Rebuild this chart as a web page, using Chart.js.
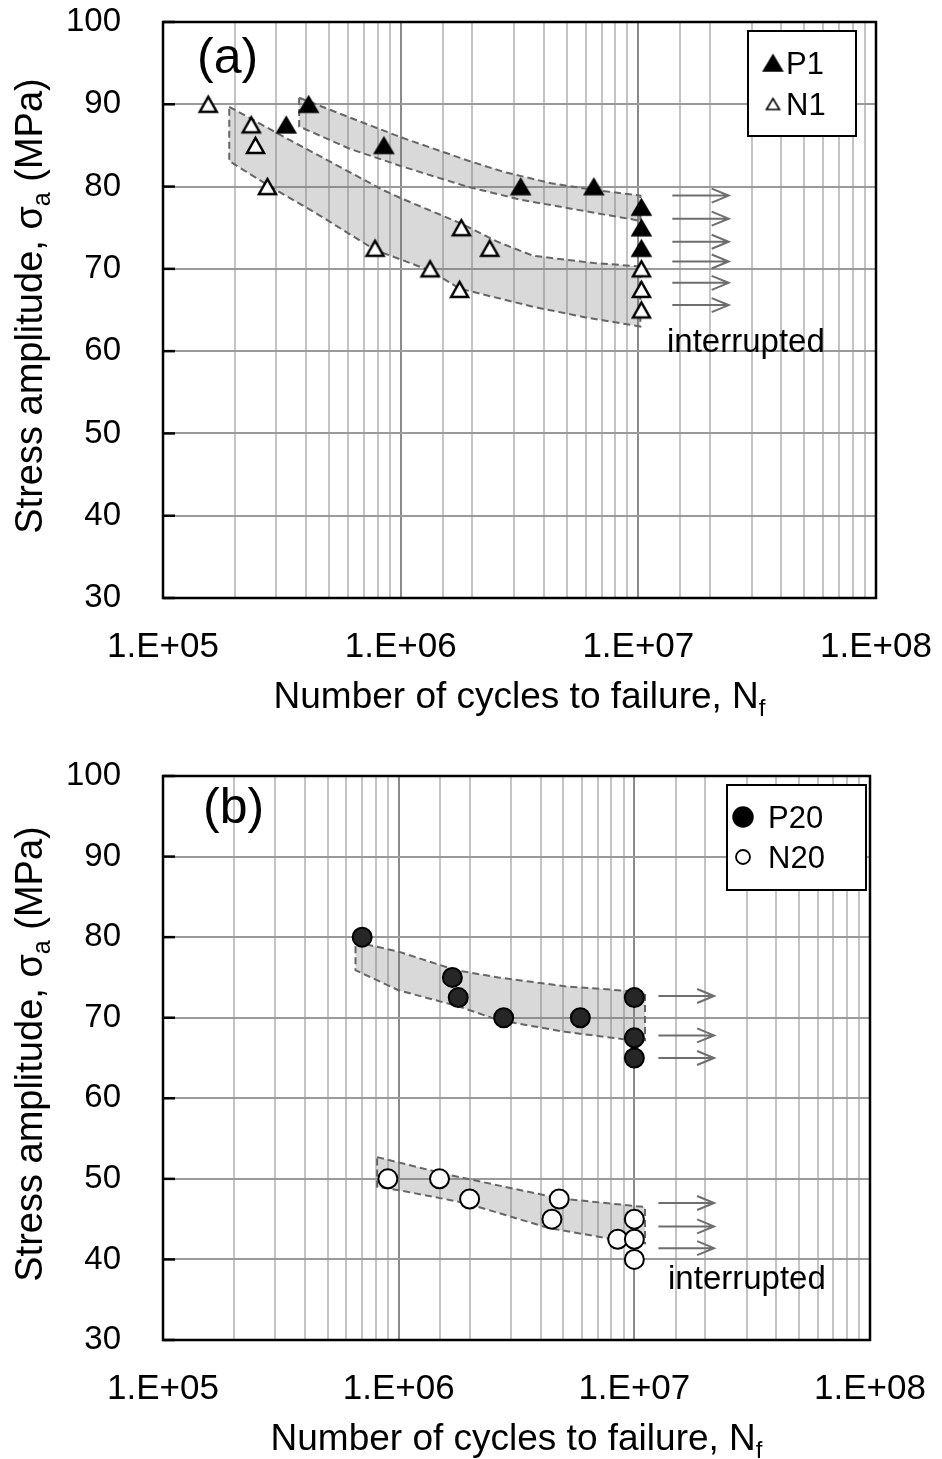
<!DOCTYPE html>
<html>
<head>
<meta charset="utf-8">
<script src="https://cdn.jsdelivr.net/npm/chart.js@4.4.1/dist/chart.umd.min.js"></script>
<style>
  body { margin: 0; background: #fff; }
  .panel { position: absolute; left: 0; width: 942px; }
  #wrapA { top: 0; height: 730px; }
  #wrapB { top: 730px; height: 729px; }
</style>
</head>
<body>
<div class="panel" id="wrapA"><canvas id="chartA"></canvas></div>
<div class="panel" id="wrapB"><canvas id="chartB"></canvas></div>
<script>
const FONT = "'Liberation Sans', Arial, sans-serif";

const xTickValues = [1e5, 1e6, 1e7, 1e8];
const xTickLabels = ['1.E+05', '1.E+06', '1.E+07', '1.E+08'];

// panel (a)
const p1Cycles = [3.3e5, 4.1e5, 8.5e5, 3.2e6, 6.5e6, 1.03e7, 1.03e7, 1.03e7];
const p1Stress = [87.5, 90, 85, 80, 80, 77.5, 75, 72.5];
const n1Cycles = [1.55e5, 2.35e5, 2.45e5, 2.75e5, 7.8e5, 1.33e6, 1.77e6, 1.8e6, 2.37e6, 1.03e7, 1.03e7, 1.03e7];
const n1Stress = [90, 87.5, 85, 80, 72.5, 70, 67.5, 75, 72.5, 70, 67.5, 65];

const p1BandCycles = [3.74e5, 6.1e5, 1.0e6, 1.9e6, 2.7e6, 4.3e6, 6.5e6, 1.02e7, 1.02e7, 9.5e6, 6.0e6, 3.2e6, 1.9e6, 1.0e6, 6.1e5, 3.74e5, 3.74e5];
const p1BandStress = [90.8, 88.4, 86.0, 83.2, 81.8, 80.4, 79.6, 78.9, 75.8, 76.0, 77.0, 78.4, 80.0, 82.5, 84.6, 87.3, 90.8];
const n1BandCycles = [1.9e5, 3.2e5, 8.4e5, 1.0e6, 1.8e6, 2.55e6, 3.6e6, 6.5e6, 1.02e7, 1.02e7, 6.0e6, 3.6e6, 1.77e6, 1.33e6, 7.8e5, 4.5e5, 2.75e5, 1.9e5, 1.9e5];
const n1BandStress = [89.7, 86.1, 79.6, 78.6, 75.5, 73.3, 71.6, 70.7, 70.3, 63.0, 64.1, 65.4, 67.6, 69.8, 72.3, 76.6, 80.2, 83.1, 89.7];

const arrowsACycles = [1.39e7, 2.4e7];
const arrowsAStress = [78.9, 76.1, 73.3, 70.9, 68.3, 65.6];

// panel (b)
const p20Cycles = [7.0e5, 1.69e6, 1.79e6, 2.79e6, 5.9e6, 1.0e7, 1.0e7, 1.0e7];
const p20Stress = [80, 75, 72.5, 70, 70, 72.5, 67.5, 65];
const n20Cycles = [9.0e5, 1.49e6, 2.0e6, 4.8e6, 4.47e6, 1.0e7, 8.5e6, 1.0e7, 1.0e7];
const n20Stress = [50, 50, 47.5, 47.5, 45, 45, 42.5, 42.5, 40];

const p20BandCycles = [6.56e5, 1.0e6, 1.75e6, 2.65e6, 5.08e6, 9.7e6, 1.11e7, 1.11e7, 9.14e6, 5.08e6, 2.65e6, 1.8e6, 1.0e6, 6.56e5, 6.56e5];
const p20BandStress = [79.4, 78.2, 75.9, 75.0, 73.9, 73.3, 73.2, 67.2, 67.3, 68.25, 69.7, 71.4, 73.4, 75.9, 79.4];
const n20BandCycles = [8.1e5, 1.63e6, 4.76e6, 1.11e7, 1.11e7, 7.77e6, 4.33e6, 1.92e6, 1.0e6, 8.1e5, 8.1e5];
const n20BandStress = [52.7, 50.5, 47.6, 46.5, 42.0, 42.6, 43.9, 47.0, 48.6, 49.0, 52.7];

const arrowsBCycles = [1.265e7, 2.18e7];
const arrowsBStress = [72.7, 67.8, 65.0, 47.0, 44.1, 41.4];

const interruptedA = [1.32e7, 61.0];
const interruptedB = [1.39e7, 37.4];


function pts(xs, ys) {
    return xs.map((x, i) => ({x: x, y: ys[i]}));
}

function isDecade(v) {
    const l = Math.log10(v);
    return Math.abs(l - Math.round(l)) < 1e-6;
}

function triMarker(w, h, fill, lw) {
    const m = 4;
    const c = document.createElement('canvas');
    c.width = w + 2 * m;
    c.height = h + 2 * m;
    const g = c.getContext('2d');
    g.beginPath();
    g.moveTo(m, h + m);
    g.lineTo(m + w / 2, m);
    g.lineTo(m + w, h + m);
    g.closePath();
    g.fillStyle = fill;
    g.fill();
    g.lineWidth = lw;
    g.strokeStyle = '#000';
    g.stroke();
    return c;
}

const triFilled = triMarker(19, 16, '#000', 1.5);
const triOpen = triMarker(17, 15, '#fff', 2.5);
const triOpenSmall = triMarker(13, 11, '#fff', 1.6);

function band(xs, ys) {
    return {
        data: pts(xs, ys),
        showLine: true,
        fill: 'shape',
        backgroundColor: 'rgba(120,120,120,0.28)',
        borderColor: '#666',
        borderWidth: 2,
        borderDash: [7, 4],
        tension: 0,
        pointRadius: 0,
        order: 2
    };
}

function drawRich(ctx, parts, x, y) {
    let total = 0;
    parts.forEach(p => {
        ctx.font = p.size + 'px ' + FONT;
        p.w = ctx.measureText(p.text).width;
        total += p.w;
    });
    let cx = x - total / 2;
    parts.forEach(p => {
        ctx.font = p.size + 'px ' + FONT;
        ctx.fillText(p.text, cx, y + (p.dy || 0));
        cx += p.w;
    });
}

const decoPlugin = {
    id: 'deco',
    afterDraw(chart, args, o) {
        const {ctx, chartArea: a} = chart;
        const xs = chart.scales.x, ys = chart.scales.y;
        ctx.save();

        // inward tick marks on the value axis
        ctx.strokeStyle = '#000';
        ctx.lineWidth = 2.5;
        ys.ticks.forEach(t => {
            const yy = ys.getPixelForValue(t.value);
            ctx.beginPath();
            ctx.moveTo(a.left, yy);
            ctx.lineTo(a.left + 12, yy);
            ctx.stroke();
        });
        ctx.strokeRect(a.left, a.top, a.right - a.left, a.bottom - a.top);

        // run-out arrows
        ctx.strokeStyle = '#6e6e6e';
        ctx.lineWidth = 2;
        o.arrowStress.forEach(s => {
            const x0 = xs.getPixelForValue(o.arrowCycles[0]);
            const x1 = xs.getPixelForValue(o.arrowCycles[1]);
            const yy = ys.getPixelForValue(s);
            ctx.beginPath();
            ctx.moveTo(x0, yy);
            ctx.lineTo(x1, yy);
            ctx.moveTo(x1 - 17, yy - 7);
            ctx.lineTo(x1, yy);
            ctx.lineTo(x1 - 17, yy + 7);
            ctx.stroke();
        });

        ctx.fillStyle = '#000';
        ctx.textBaseline = 'middle';
        ctx.textAlign = 'left';
        ctx.font = '33px ' + FONT;
        ctx.fillText('interrupted', xs.getPixelForValue(o.note[0]), ys.getPixelForValue(o.note[1]));

        ctx.font = '50px ' + FONT;
        ctx.fillText(o.panel, a.left + o.panelDx, a.top + o.panelDy);

        // legend box
        const L = o.legend;
        const bx = a.right - L.right - L.width, by = a.top + L.top;
        ctx.fillStyle = '#fff';
        ctx.fillRect(bx, by, L.width, L.height);
        ctx.strokeStyle = '#000';
        ctx.lineWidth = 2;
        ctx.strokeRect(bx, by, L.width, L.height);
        L.items.forEach(it => {
            const mx = bx + L.markerDx, my = by + it.dy;
            if (it.marker instanceof HTMLCanvasElement) {
                ctx.drawImage(it.marker, mx - it.marker.width / 2, my - it.marker.height / 2);
            } else {
                ctx.beginPath();
                ctx.arc(mx, my, it.marker.r, 0, Math.PI * 2);
                ctx.fillStyle = it.marker.fill;
                ctx.fill();
                ctx.lineWidth = it.marker.lw;
                ctx.strokeStyle = '#000';
                ctx.stroke();
            }
            ctx.fillStyle = '#000';
            ctx.font = '31px ' + FONT;
            ctx.textBaseline = 'middle';
            ctx.fillText(it.label, bx + L.textDx, my + 2);
        });

        // axis titles with subscripts
        ctx.textBaseline = 'alphabetic';
        ctx.textAlign = 'left';
        ctx.fillStyle = '#000';
        drawRich(ctx, [
            {text: 'Number of cycles to failure, N', size: 37},
            {text: 'f', size: 24, dy: 8}
        ], (a.left + a.right) / 2, a.bottom + 110);

        ctx.translate(42, (a.top + a.bottom) / 2 - 4);
        ctx.rotate(-Math.PI / 2);
        drawRich(ctx, [
            {text: 'Stress amplitude, σ', size: 38},
            {text: 'a', size: 25, dy: 8},
            {text: ' (MPa)', size: 38}
        ], 0, 0);
        ctx.restore();
    }
};

function createChart(id, datasets, layout, deco) {
    return new Chart(document.getElementById(id), {
        type: 'line',
        data: {datasets: datasets},
        options: {
            responsive: true,
            maintainAspectRatio: false,
            animation: false,
            events: [],
            layout: {padding: {top: layout.top, right: layout.right, left: 0, bottom: 0}},
            scales: {
                x: {
                    type: 'logarithmic',
                    min: 1e5,
                    max: 1e8,
                    afterFit: s => {
                        s.height = layout.xAxisHeight;
                        s.paddingLeft = 0;
                        s.paddingRight = 0;
                    },
                    border: {display: false},
                    grid: {
                        color: c => (c.tick && isDecade(c.tick.value)) ? '#8a8a8a' : '#c4c4c4',
                        lineWidth: 2,
                        drawTicks: false
                    },
                    ticks: {
                        autoSkip: false,
                        maxRotation: 0,
                        padding: 28,
                        color: '#000',
                        font: {family: FONT, size: 35},
                        callback: v => {
                            const i = xTickValues.findIndex(t => Math.abs(t - v) / t < 1e-6);
                            return i >= 0 ? xTickLabels[i] : '';
                        }
                    }
                },
                y: {
                    min: 30,
                    max: 100,
                    afterFit: s => {
                        s.width = 163;
                        s.paddingTop = 0;
                        s.paddingBottom = 0;
                    },
                    border: {display: false},
                    grid: {color: '#9a9a9a', lineWidth: 2, drawTicks: false},
                    ticks: {
                        stepSize: 10,
                        padding: 42,
                        color: '#000',
                        font: {family: FONT, size: 33}
                    }
                }
            },
            plugins: {
                legend: {display: false},
                tooltip: {enabled: false},
                deco: deco
            }
        },
        plugins: [decoPlugin]
    });
}

createChart('chartA', [
    {label: 'P1', data: pts(p1Cycles, p1Stress), showLine: false, pointStyle: triFilled, pointRadius: 10, order: 0},
    {label: 'N1', data: pts(n1Cycles, n1Stress), showLine: false, pointStyle: triOpen, pointRadius: 10, order: 0},
    band(p1BandCycles, p1BandStress),
    band(n1BandCycles, n1BandStress)
], {top: 22, right: 66, xAxisHeight: 132}, {
    arrowCycles: arrowsACycles,
    arrowStress: arrowsAStress,
    note: interruptedA,
    panel: '(a)', panelDx: 34, panelDy: 37,
    legend: {
        right: 20, top: 9, width: 108, height: 105, markerDx: 25, textDx: 38,
        items: [
            {label: 'P1', marker: triFilled, dy: 32},
            {label: 'N1', marker: triOpenSmall, dy: 73}
        ]
    }
});

createChart('chartB', [
    {label: 'P20', data: pts(p20Cycles, p20Stress), showLine: false, pointStyle: 'circle', pointRadius: 9.5,
     backgroundColor: '#262626', borderColor: '#000', borderWidth: 2, order: 0},
    {label: 'N20', data: pts(n20Cycles, n20Stress), showLine: false, pointStyle: 'circle', pointRadius: 9.5,
     backgroundColor: '#fff', borderColor: '#000', borderWidth: 2, order: 0},
    band(p20BandCycles, p20BandStress),
    band(n20BandCycles, n20BandStress)
], {top: 46, right: 72, xAxisHeight: 119}, {
    arrowCycles: arrowsBCycles,
    arrowStress: arrowsBStress,
    note: interruptedB,
    panel: '(b)', panelDx: 40, panelDy: 33,
    legend: {
        right: 4, top: 9, width: 139, height: 105, markerDx: 16, textDx: 41,
        items: [
            {label: 'P20', marker: {r: 10, fill: '#000', lw: 1.5}, dy: 32},
            {label: 'N20', marker: {r: 7, fill: '#fff', lw: 1.8}, dy: 72}
        ]
    }
});
</script>
</body>
</html>
